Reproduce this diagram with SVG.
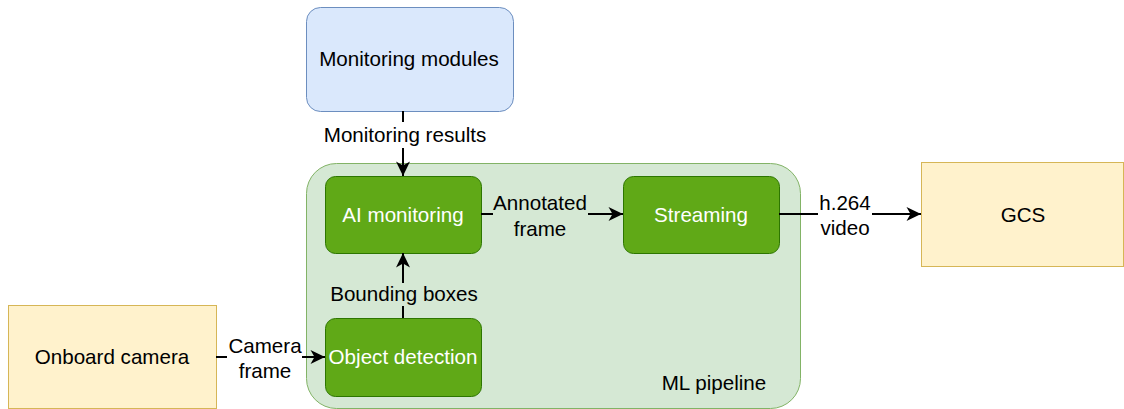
<svg xmlns="http://www.w3.org/2000/svg" width="1124" height="409" viewBox="0 0 1124 409">
<style>
text{font-family:"Liberation Sans",Arial,sans-serif;font-size:20.6px;text-anchor:middle;fill:#000}
.w{fill:#fff}
.blue{fill:#dae8fc;stroke:#6c8ebf;stroke-width:1}
.yel{fill:#fff2cc;stroke:#d6b656;stroke-width:1}
.cont{fill:#d5e8d4;stroke:#82b366;stroke-width:1}
.grn{fill:#60a917;stroke:#2d7600;stroke-width:1}
.ln{stroke:#000;stroke-width:2;fill:none}
</style>
<defs>
<marker id="ah" markerUnits="userSpaceOnUse" markerWidth="16" markerHeight="16" viewBox="0 0 16 16" refX="15" refY="8" orient="auto">
<path d="M0.5,1 L15,8 L0.5,15 L4.5,8 Z" fill="#000"/>
</marker>
</defs>
<g id="monitoring-modules">
<rect class="blue" x="306.5" y="7.5" width="207" height="104" rx="14"/>
<text x="409" y="66">Monitoring modules</text>
</g>
<g id="ml-pipeline">
<rect class="cont" x="306.5" y="163.5" width="494" height="245" rx="30"/>
<text x="714" y="390">ML pipeline</text>
</g>
<g id="ai-monitoring">
<rect class="grn" x="325.5" y="176.5" width="156" height="77" rx="10"/>
<text class="w" x="403" y="222">AI monitoring</text>
</g>
<g id="streaming">
<rect class="grn" x="623.5" y="176.5" width="156" height="77" rx="10"/>
<text class="w" x="701" y="222">Streaming</text>
</g>
<g id="object-detection">
<rect class="grn" x="325.5" y="318.5" width="156" height="78" rx="10"/>
<text class="w" x="403" y="364">Object detection</text>
</g>
<g id="onboard-camera">
<rect class="yel" x="8.5" y="305.5" width="208" height="103"/>
<text x="112" y="364">Onboard camera</text>
</g>
<g id="gcs">
<rect class="yel" x="921.5" y="162.5" width="202" height="104"/>
<text x="1023" y="222">GCS</text>
</g>
<g id="connectors">
<line class="ln" x1="403" y1="111" x2="403" y2="122"/>
<line class="ln" x1="403" y1="148" x2="403" y2="176" marker-end="url(#ah)"/>
<text x="405" y="142">Monitoring results</text>
<line class="ln" x1="403" y1="318" x2="403" y2="306"/>
<line class="ln" x1="403" y1="283" x2="403" y2="253" marker-end="url(#ah)"/>
<text x="404" y="301">Bounding boxes</text>
<line class="ln" x1="481" y1="214" x2="493" y2="214"/>
<line class="ln" x1="588" y1="214" x2="623" y2="214" marker-end="url(#ah)"/>
<text x="540" y="210">Annotated</text>
<text x="540" y="236">frame</text>
<line class="ln" x1="779" y1="214" x2="818" y2="214"/>
<line class="ln" x1="872" y1="214" x2="921" y2="214" marker-end="url(#ah)"/>
<text x="845" y="210">h.264</text>
<text x="845" y="235">video</text>
<line class="ln" x1="216" y1="357" x2="227" y2="357"/>
<line class="ln" x1="302" y1="357" x2="325" y2="357" marker-end="url(#ah)"/>
<text x="265" y="353">Camera</text>
<text x="265" y="378">frame</text>
</g>
</svg>
